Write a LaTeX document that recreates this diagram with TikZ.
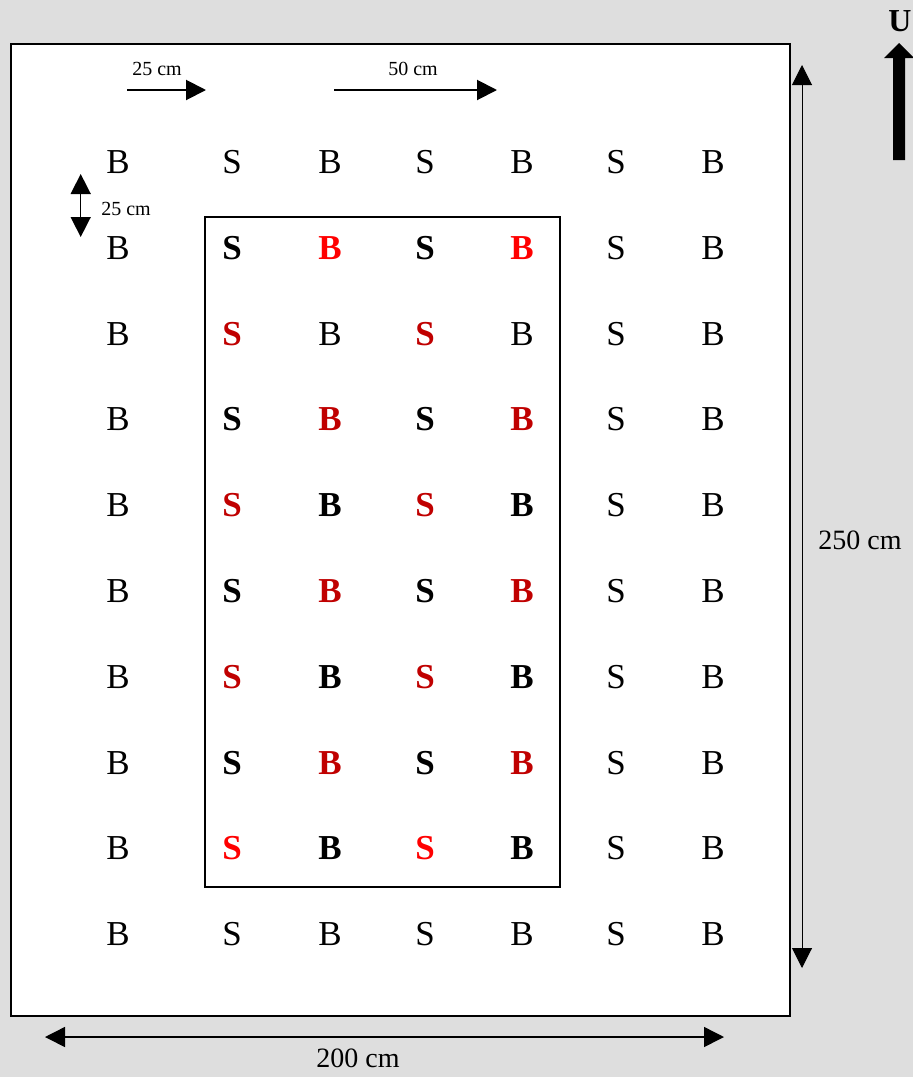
\documentclass[tikz,border=0pt]{standalone}
\usepackage{fontspec}
\setmainfont{Liberation Serif}
\usetikzlibrary{arrows.meta}
\definecolor{brightred}{HTML}{FF0000}
\definecolor{darkred}{HTML}{C00000}
\definecolor{bggray}{HTML}{DEDEDE}
\begin{document}
\begin{tikzpicture}[x=1pt,y=-1pt,
  sr/.style={inner sep=0pt, font=\fontsize{35}{35}\selectfont},
  sb/.style={inner sep=0pt, font=\fontsize{35}{35}\selectfont\bfseries},
  sbr/.style={sb, text=brightred},
  sdr/.style={sb, text=darkred},
  lbl/.style={inner sep=0pt, font=\fontsize{20}{20}\selectfont},
  biglbl/.style={inner sep=0pt, font=\fontsize{28}{28}\selectfont},
  dimone/.style={line width=#1, -{Triangle[length=20pt,width=20pt]}},
  dimtwo/.style={line width=#1, {Triangle[length=20pt,width=20pt]}-{Triangle[length=20pt,width=20pt]}},
  ]
% background and bounding box
\fill[bggray] (0,0) rectangle (913,1077);
\useasboundingbox (0,0) rectangle (913,1077);
% field
\draw[line width=2pt, fill=white] (11,44) rectangle (790,1016);
% inner plot
\draw[line width=1.5pt] (205,217) rectangle (560,887);
% outer rows
\foreach \c/\x/\t in {0/118/B,1/232/S,2/330/B,3/425/S,4/522/B,5/616/S,6/713/B} {
  \node[sr] (r0-c\c) at (\x,162) {\t};
  \node[sr] (r9-c\c) at (\x,934.2) {\t};
}
% outer columns
\foreach \r in {1,...,8} {
  \node[sr] (r\r-c0) at (118,162+85.8*\r) {B};
  \node[sr] (r\r-c5) at (616,162+85.8*\r) {S};
  \node[sr] (r\r-c6) at (713,162+85.8*\r) {B};
}
% inner plot letters
\foreach \r/\ss/\bs in {1/sb/sbr,2/sdr/sr,3/sb/sdr,4/sdr/sb,5/sb/sdr,6/sdr/sb,7/sb/sdr,8/sbr/sb} {
  \node[\ss] (r\r-c1) at (232,162+85.8*\r) {S};
  \node[\bs] (r\r-c2) at (330,162+85.8*\r) {B};
  \node[\ss] (r\r-c3) at (425,162+85.8*\r) {S};
  \node[\bs] (r\r-c4) at (522,162+85.8*\r) {B};
}
% dimension arrows
\coordinate (h25s) at (127,90);
\coordinate (h25e) at (206,90);
\coordinate (h50s) at (334,90);
\coordinate (h50e) at (497,90);
\coordinate (v25s) at (80.7,174);
\coordinate (v25e) at (80.7,237);
\coordinate (v250s) at (802,65);
\coordinate (v250e) at (802,968);
\coordinate (h200s) at (45,1037);
\coordinate (h200e) at (724,1037);
\draw[dimone=2pt] (h25s) -- (h25e);
\draw[dimone=2pt] (h50s) -- (h50e);
\draw[dimtwo=1.5pt] (v25s) -- (v25e);
\draw[dimtwo=1pt] (v250e) -- (v250s);
\draw[dimtwo=1.5pt] (h200s) -- (h200e);
\node[lbl] (l25h) at (157,69) {25 cm};
\node[lbl] (l50h) at (413,69) {50 cm};
\node[lbl] (l25v) at (126,209) {25 cm};
\node[biglbl] (l250) at (860,540) {250 cm};
\node[biglbl] (l200) at (358,1058) {200 cm};
% north arrow
\fill (893,160) -- (893,58) -- (884,58) -- (899,43) -- (914,58) -- (905,58) -- (905,160) -- cycle;
\node[inner sep=0pt, font=\fontsize{32}{32}\selectfont\bfseries] (north) at (900,21) {U};
\end{tikzpicture}
\end{document}
